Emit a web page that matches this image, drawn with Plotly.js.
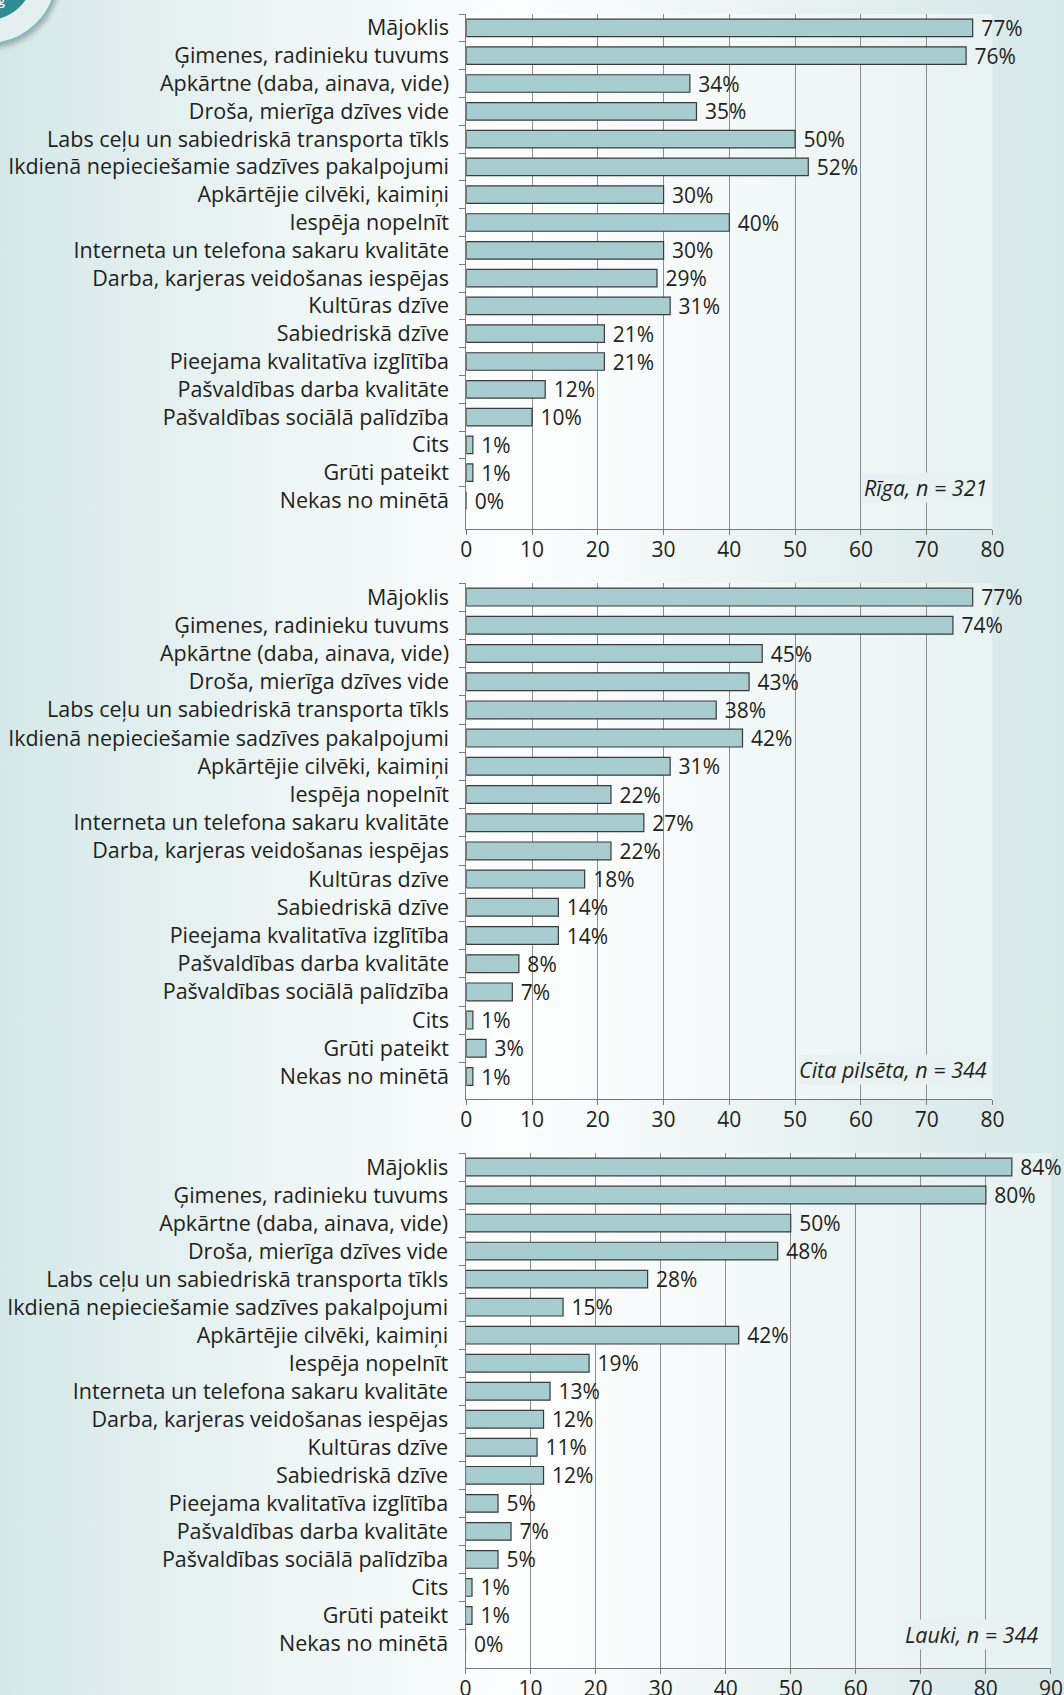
<!DOCTYPE html>
<html>
<head>
<meta charset="utf-8">
<script src="https://cdn.plot.ly/plotly-3.0.1.min.js"></script>
<style>
  html, body { margin: 0; padding: 0; width: 1064px; height: 1695px; overflow: hidden; }
  body {
    background: linear-gradient(to right, #d5e8e9 0%, #ecf4f4 25%, #fbfdfd 48%, #f3f8f8 62%, #e2eeee 82%, #d6e8e9 100%);
    position: relative;
  }
  #chart { position: absolute; left: 0; top: 0; width: 1064px; height: 1695px; }
  .badge-ring {
    position: absolute; left: -82px; top: -95px; width: 136px; height: 136px; border-radius: 50%;
    background: #e4f0f0; border: 2px solid #7dbcc0; box-shadow: 2px 3px 5px rgba(0,0,0,0.25); z-index: 5;
  }
  .badge-core {
    position: absolute; left: -57px; top: -70px; width: 90px; height: 90px; border-radius: 50%;
    background: #2f8c92; z-index: 6; overflow: hidden;
  }
  .badge-core span {
    position: absolute; left: 52px; top: 62px; color: #ffffff; font: 600 12px "Open Sans", sans-serif;
  }
</style>
</head>
<body>
<div class="badge-ring"></div>
<div class="badge-core"><span>ig</span></div>
<div id="chart"></div>
<script>
const categories = [
  "Mājoklis",
  "Ģimenes, radinieku tuvums",
  "Apkārtne (daba, ainava, vide)",
  "Droša, mierīga dzīves vide",
  "Labs ceļu un sabiedriskā transporta tīkls",
  "Ikdienā nepieciešamie sadzīves pakalpojumi",
  "Apkārtējie cilvēki, kaimiņi",
  "Iespēja nopelnīt",
  "Interneta un telefona sakaru kvalitāte",
  "Darba, karjeras veidošanas iespējas",
  "Kultūras dzīve",
  "Sabiedriskā dzīve",
  "Pieejama kvalitatīva izglītība",
  "Pašvaldības darba kvalitāte",
  "Pašvaldības sociālā palīdzība",
  "Cits",
  "Grūti pateikt",
  "Nekas no minētā"
];
const rigaValues  = [77, 76, 34, 35, 50, 52, 30, 40, 30, 29, 31, 21, 21, 12, 10, 1, 1, 0];
const citaValues  = [77, 74, 45, 43, 38, 42, 31, 22, 27, 22, 18, 14, 14, 8, 7, 1, 3, 1];
const laukiValues = [84, 80, 50, 48, 28, 15, 42, 19, 13, 12, 11, 12, 5, 7, 5, 1, 1, 0];
const panelNotes = ["Rīga, n = 321", "Cita pilsēta, n = 344", "Lauki, n = 344"];
const xTicks12 = [0, 10, 20, 30, 40, 50, 60, 70, 80];
const xTicks3  = [0, 10, 20, 30, 40, 50, 60, 70, 80, 90];

const FONT = '"Open Sans", "Noto Sans", sans-serif';
const TXT = '#231f20';
const GRID = '#8e8e8e';
const LINE = '#7a7a7a';
const BAR = '#a8cdd1';

function barTrace(vals, xa, ya) {
  return {
    type: 'bar', orientation: 'h',
    x: vals, y: categories,
    xaxis: xa, yaxis: ya,
    marker: { color: BAR, line: { color: '#3a3a3a', width: 1.2 } },
    text: vals.map(v => '\u00a0' + v + '%'),
    texttemplate: '%{text}',
    textposition: 'outside',
    constraintext: 'none',
    textfont: { family: FONT, size: 21, color: TXT },
    cliponaxis: false,
    hoverinfo: 'skip',
    showlegend: false
  };
}

function yAxis(domain, anchor) {
  return {
    domain: domain, anchor: anchor,
    type: 'category', categoryorder: 'array', categoryarray: categories,
    autorange: 'reversed',
    ticks: 'outside', ticklen: 6, tickcolor: LINE, tickwidth: 1,
    tickson: 'boundaries',
    ticklabelstandoff: 12,
    showline: true, linecolor: LINE, linewidth: 1,
    showgrid: false, zeroline: false,
    tickfont: { family: FONT, size: 21.5, color: TXT },
    automargin: false, fixedrange: true
  };
}
function xAxis(domain, anchor, range, ticks) {
  return {
    domain: domain, anchor: anchor, range: range,
    tickmode: 'array', tickvals: ticks, ticktext: ticks.map(String),
    ticks: 'outside', ticklen: 5, tickcolor: LINE, tickwidth: 1,
    ticklabelstandoff: -3,
    showline: true, linecolor: LINE, linewidth: 1,
    showgrid: true, gridcolor: GRID, gridwidth: 1,
    zeroline: false,
    tickfont: { family: FONT, size: 21, color: TXT },
    automargin: false, fixedrange: true
  };
}

const H = 1695, W = 1064;
const py = (top, bottom) => [1 - bottom / H, 1 - top / H];
const px = (l, r) => [l / W, r / W];

const data = [
  barTrace(rigaValues, 'x', 'y'),
  barTrace(citaValues, 'x2', 'y2'),
  barTrace(laukiValues, 'x3', 'y3')
];

function note(text, xa, ya, xv, xs, ys) {
  return {
    text: text, xref: xa, yref: ya, x: xv, y: categories[categories.length - 1],
    xanchor: 'right', yanchor: 'middle', xshift: xs, yshift: ys, showarrow: false,
    font: { family: FONT, size: 21.5, color: TXT, style: 'italic' },
    bgcolor: '#e9f2f2', borderpad: 0
  };
}

const layout = {
  width: W, height: H,
  margin: { l: 0, r: 0, t: 0, b: 0 },
  paper_bgcolor: 'rgba(0,0,0,0)',
  plot_bgcolor: 'rgba(255,255,255,0.4)',
  bargap: 0.37,
  font: { family: FONT, color: TXT },
  xaxis:  xAxis(px(466.3, 992.4), 'y',  [0, 80], xTicks12),
  yaxis:  yAxis(py(14, 529), 'x'),
  xaxis2: xAxis(px(466.3, 992.4), 'y2', [0, 80], xTicks12),
  yaxis2: yAxis(py(583, 1099), 'x2'),
  xaxis3: xAxis(px(465.5, 1050.9), 'y3', [0, 90], xTicks3),
  yaxis3: yAxis(py(1153, 1668), 'x3'),
  annotations: [
    note(panelNotes[0], 'x', 'y', 80, -4, 13),
    note(panelNotes[1], 'x2', 'y2', 80, -4, 7),
    note(panelNotes[2], 'x3', 'y3', 90, -12, 9)
  ]
};

Plotly.newPlot('chart', data, layout, { staticPlot: true, displayModeBar: false });
</script>
</body>
</html>
